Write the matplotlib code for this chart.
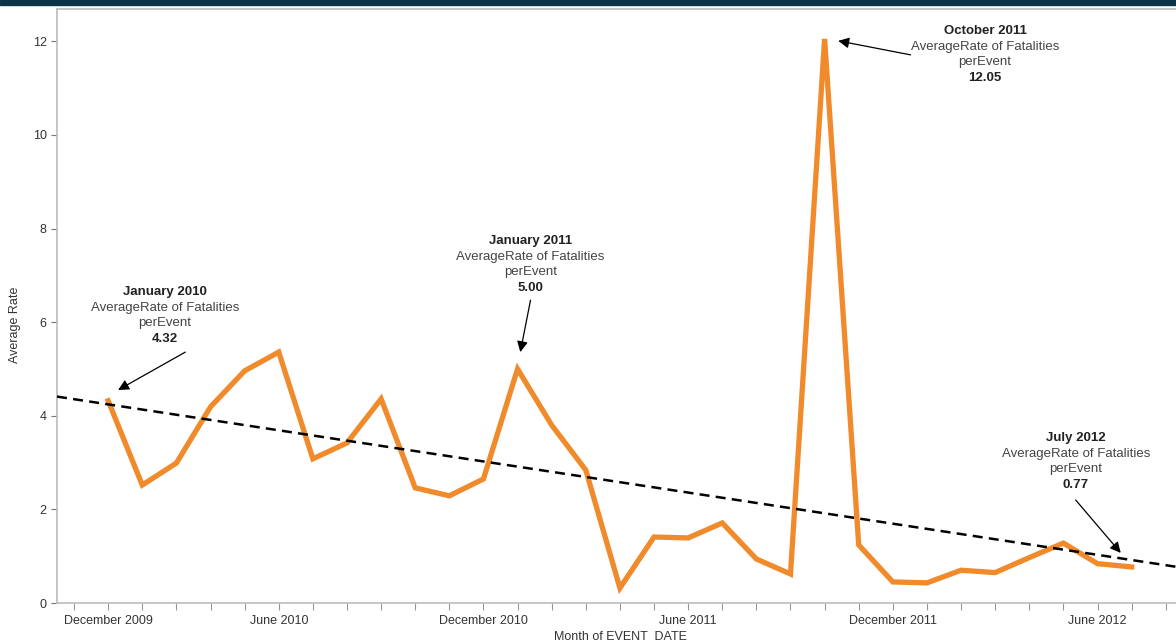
import numpy as np
import matplotlib
matplotlib.use("Agg")
import matplotlib.pyplot as plt
from matplotlib.patches import Rectangle

plt.rcParams['font.family'] = ['Liberation Sans', 'DejaVu Sans']

# monthly averages, January 2010 .. July 2012
months = ["Jan 2010", "Feb 2010", "Mar 2010", "Apr 2010", "May 2010", "Jun 2010",
          "Jul 2010", "Aug 2010", "Sep 2010", "Oct 2010", "Nov 2010", "Dec 2010",
          "Jan 2011", "Feb 2011", "Mar 2011", "Apr 2011", "May 2011", "Jun 2011",
          "Jul 2011", "Aug 2011", "Sep 2011", "Oct 2011", "Nov 2011", "Dec 2011",
          "Jan 2012", "Feb 2012", "Mar 2012", "Apr 2012", "May 2012", "Jun 2012",
          "Jul 2012"]
rates = [4.32, 2.52, 2.99, 4.19, 4.96, 5.36, 3.08, 3.42, 4.36, 2.46, 2.29, 2.65,
         5.00, 3.80, 2.84, 0.32, 1.41, 1.39, 1.71, 0.94, 0.62, 12.05, 1.24, 0.45,
         0.43, 0.70, 0.65, 0.97, 1.28, 0.84, 0.77]

tick_labels = {0: "December 2009", 5: "June 2010", 11: "December 2010",
               17: "June 2011", 23: "December 2011", 29: "June 2012"}

# (index, title, value text, text x, text y, arrow start, arrow end)
notes = [(0, "January 2010", "4.32", 1.67, 6.65, (2.26, 5.36), (0.29, 4.55)),
         (12, "January 2011", "5.00", 12.38, 7.74, (12.38, 6.47), (12.08, 5.36)),
         (21, "October 2011", "12.05", 25.7, 12.22, (23.52, 11.71), (21.4, 12.01)),
         (30, "July 2012", "0.77", 28.36, 3.53, (28.36, 2.2), (29.68, 1.07))]

x = np.arange(len(rates))

fig = plt.figure(figsize=(11.76, 6.43), dpi=100)
ax = fig.add_axes([57/1176, 40/643, 1 - 57/1176, 594/643])

ax.plot(x, rates, color="#f08a2a", lw=3.8, solid_joinstyle="miter", zorder=3)

# linear trend
k, b = np.polyfit(x, rates, 1)
xt = np.array([-1.5, 31.3])
ax.plot(xt, k*xt + b, color="black", lw=1.8, ls=(0, (4, 2.5)), zorder=4)

ax.set_xlim(-1.5, 31.3)
ax.set_ylim(0, 12.69)

ax.set_yticks(range(0, 13, 2))
ax.set_xticks(np.arange(-1, 32))
ax.set_xticklabels([tick_labels.get(int(i), "") for i in np.arange(-1, 32)])
ax.tick_params(axis="y", colors="#777777", labelcolor="#333333", labelsize=9, length=4, width=0.8)
ax.tick_params(axis="x", colors="#999999", labelcolor="#333333", labelsize=9, length=5, width=0.8, pad=4)

for s in ["left", "bottom", "top"]:
    ax.spines[s].set_color("#bbbbbb")
    ax.spines[s].set_linewidth(1.2)
ax.spines["right"].set_visible(False)

fig.text(15/1176, 1 - 325/643, "Average Rate", rotation=90, ha="center", va="center",
         fontsize=9, color="#333333")
fig.text(620/1176, 1 - 637/643, "Month of EVENT  DATE", ha="center", va="center",
         fontsize=9, color="#333333")

for idx, title, val, tx, ty, start, end in notes:
    ax.text(tx, ty, title, ha="center", va="center", fontsize=9.5, fontweight="bold", color="#222222")
    ax.text(tx, ty - 0.34, "AverageRate of Fatalities", ha="center", va="center", fontsize=9.5, color="#444444")
    ax.text(tx, ty - 0.67, "perEvent", ha="center", va="center", fontsize=9.5, color="#444444")
    ax.text(tx, ty - 1.0, val, ha="center", va="center", fontsize=9.5, fontweight="bold", color="#222222")
    ax.annotate("", xy=end, xytext=start,
                arrowprops=dict(arrowstyle="-|>", color="black", lw=0.9, mutation_scale=16,
                                shrinkA=0, shrinkB=0))

# dark band across the top
fig.patches.append(Rectangle((0, 1 - 5/643), 1, 5/643, transform=fig.transFigure,
                             color="#0b3447", zorder=10))

fig.savefig("out.png", dpi=100)
